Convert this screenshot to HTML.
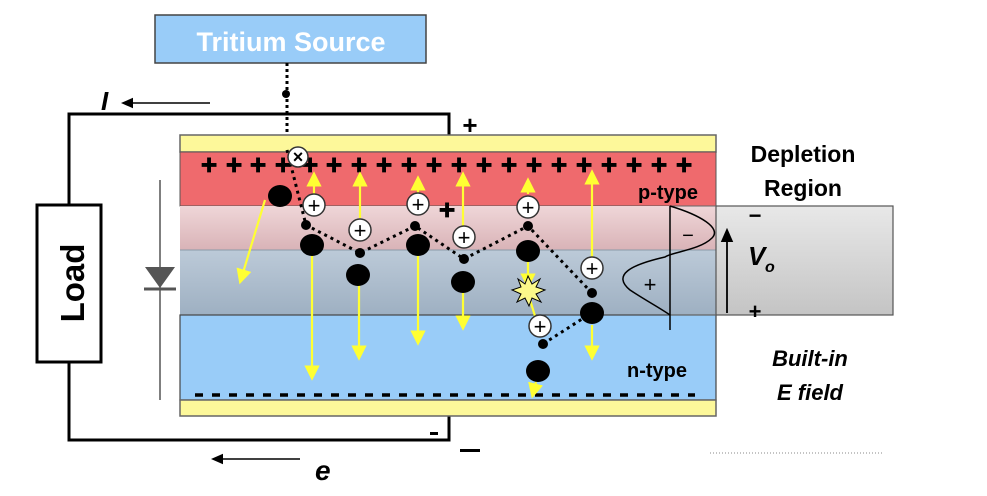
<!DOCTYPE html>
<html><head><meta charset="utf-8"><style>
html,body{margin:0;padding:0;background:#fff;}
svg{display:block;font-family:"Liberation Sans",Arial,sans-serif;}
</style></head><body>
<svg width="987" height="496" viewBox="0 0 987 496" xmlns="http://www.w3.org/2000/svg">
<defs>
<linearGradient id="pk" x1="0" y1="0" x2="0" y2="1"><stop offset="0" stop-color="#efd6d8"/><stop offset="1" stop-color="#d9b3b7"/></linearGradient>
<linearGradient id="gb" x1="0" y1="0" x2="0" y2="1"><stop offset="0" stop-color="#bccad8"/><stop offset="1" stop-color="#9eb0c2"/></linearGradient>
<linearGradient id="gr" x1="0" y1="0" x2="0" y2="1"><stop offset="0" stop-color="#e8e8e8"/><stop offset="1" stop-color="#c4c4c4"/></linearGradient>
<marker id="ya" markerWidth="7" markerHeight="7" refX="3" refY="3.5" orient="auto" markerUnits="strokeWidth"><path d="M0,0 L7,3.5 L0,7 z" fill="#ffff33"/></marker>
<marker id="ka" markerWidth="8" markerHeight="8" refX="4" refY="4" orient="auto" markerUnits="strokeWidth"><path d="M0,0.5 L8,4 L0,7.5 z" fill="#000"/></marker>
</defs>
<rect x="155" y="15" width="271" height="48" fill="#99ccf8" stroke="#444" stroke-width="1.5"/>
<text x="291" y="51" font-size="27" font-weight="bold" fill="#fff" text-anchor="middle">Tritium Source</text>
<line x1="287" y1="63" x2="287" y2="135" stroke="#000" stroke-width="3" stroke-dasharray="3,3"/>
<circle cx="286" cy="94" r="4" fill="#000"/>
<polyline points="449,135 449,114 69,114 69,205" fill="none" stroke="#000" stroke-width="3"/>
<polyline points="69,362 69,440 449,440 449,416" fill="none" stroke="#000" stroke-width="3"/>
<rect x="37" y="205" width="64" height="157" fill="#fff" stroke="#000" stroke-width="3"/>
<text transform="translate(84,283) rotate(-90)" font-size="33" font-weight="bold" text-anchor="middle">Load</text>
<text x="101" y="110" font-size="26" font-weight="bold" font-style="italic">I</text>
<line x1="210" y1="103" x2="127" y2="103" stroke="#000" stroke-width="1.5" marker-end="url(#ka)"/>
<line x1="300" y1="459" x2="217" y2="459" stroke="#000" stroke-width="1.5" marker-end="url(#ka)"/>
<text x="315" y="480" font-size="28" font-weight="bold" font-style="italic">e</text>
<text x="470" y="134" font-size="26" font-weight="bold" text-anchor="middle">+</text>
<rect x="460" y="449" width="20" height="3" fill="#000"/>
<rect x="430" y="432" width="8" height="3" fill="#000"/>
<line x1="160" y1="180" x2="160" y2="400" stroke="#555" stroke-width="1.5"/>
<polygon points="145,267 175,267 160,288" fill="#555"/>
<line x1="144" y1="289" x2="176" y2="289" stroke="#555" stroke-width="3"/>
<rect x="180" y="135" width="536" height="17" fill="#fdf89a" stroke="#666" stroke-width="1.5"/>
<rect x="180" y="152" width="536" height="54" fill="#ef6a6d" stroke="#555" stroke-width="1"/>
<rect x="180" y="206" width="536" height="44" fill="url(#pk)"/>
<rect x="180" y="250" width="536" height="65" fill="url(#gb)"/>
<line x1="180" y1="250" x2="716" y2="250" stroke="#8a9aa8" stroke-width="1"/>
<rect x="180" y="315" width="536" height="85" fill="#99ccf8" stroke="#444" stroke-width="1.2"/>
<rect x="180" y="400" width="536" height="16" fill="#fdf89a" stroke="#666" stroke-width="1.5"/>
<rect x="716" y="206" width="177" height="109" fill="url(#gr)" stroke="#555" stroke-width="1.2"/>
<line x1="670" y1="206" x2="716" y2="206" stroke="#666" stroke-width="1"/>
<line x1="670" y1="315" x2="716" y2="315" stroke="#666" stroke-width="1"/>
<g font-size="28" font-weight="bold" text-anchor="middle" stroke="#000" stroke-width="0.8">
<text x="209" y="174">+</text><text x="234" y="174">+</text><text x="258" y="174">+</text><text x="283" y="174">+</text>
<text x="310" y="174">+</text><text x="334" y="174">+</text><text x="359" y="174">+</text><text x="384" y="174">+</text>
<text x="409" y="174">+</text><text x="434" y="174">+</text><text x="459" y="174">+</text><text x="484" y="174">+</text>
<text x="509" y="174">+</text><text x="534" y="174">+</text><text x="559" y="174">+</text><text x="584" y="174">+</text>
<text x="609" y="174">+</text><text x="634" y="174">+</text><text x="659" y="174">+</text><text x="684" y="174">+</text>
<text x="447" y="219">+</text>
</g>
<line x1="195" y1="395" x2="695" y2="395" stroke="#000" stroke-width="3.5" stroke-dasharray="8,9"/>
<text x="638" y="199" font-size="20" font-weight="bold">p-type</text>
<text x="627" y="377" font-size="20" font-weight="bold">n-type</text>
<polyline points="287,150 306,225 360,253 415,226 464,259 528,226 592,293" fill="none" stroke="#000" stroke-width="3" stroke-dasharray="3,4"/>
<polyline points="593,312 543,344" fill="none" stroke="#000" stroke-width="3" stroke-dasharray="3,4"/>
<g stroke="#ffff33" stroke-width="2.2" fill="none">
<line x1="265" y1="200" x2="242" y2="276" marker-end="url(#ya)"/>
<line x1="312" y1="255" x2="312" y2="372" marker-end="url(#ya)"/>
<line x1="314" y1="194" x2="314" y2="180" marker-end="url(#ya)"/>
<line x1="360" y1="218" x2="360" y2="180" marker-end="url(#ya)"/>
<line x1="359" y1="285" x2="359" y2="352" marker-end="url(#ya)"/>
<line x1="418" y1="193" x2="418" y2="184" marker-end="url(#ya)"/>
<line x1="418" y1="255" x2="418" y2="337" marker-end="url(#ya)"/>
<line x1="463" y1="226" x2="463" y2="180" marker-end="url(#ya)"/>
<line x1="463" y1="292" x2="463" y2="322" marker-end="url(#ya)"/>
<line x1="528" y1="194" x2="528" y2="186" marker-end="url(#ya)"/>
<line x1="528" y1="262" x2="528" y2="280" marker-end="url(#ya)"/>
<line x1="530" y1="300" x2="535" y2="316"/>
<line x1="592" y1="257" x2="592" y2="178" marker-end="url(#ya)"/>
<line x1="592" y1="325" x2="592" y2="352" marker-end="url(#ya)"/>
<line x1="536" y1="382" x2="534" y2="390" marker-end="url(#ya)"/>
</g>
<polygon points="528,276 532,284 540,279 536,287 545,290 536,294 541,302 532,298 529,306 525,298 517,302 521,294 512,290 521,287 518,279 525,284" fill="#fbf88a" stroke="#000" stroke-width="1"/>
<g fill="#000">
<ellipse cx="280" cy="196" rx="12" ry="11"/>
<ellipse cx="312" cy="245" rx="12" ry="11"/>
<ellipse cx="358" cy="275" rx="12" ry="11"/>
<ellipse cx="418" cy="245" rx="12" ry="11"/>
<ellipse cx="463" cy="282" rx="12" ry="11"/>
<ellipse cx="528" cy="251" rx="12" ry="11"/>
<ellipse cx="592" cy="313" rx="12" ry="11"/>
<ellipse cx="538" cy="371" rx="12" ry="11"/>
<circle cx="306" cy="225" r="5"/><circle cx="360" cy="253" r="5"/><circle cx="415" cy="226" r="5"/>
<circle cx="464" cy="259" r="5"/><circle cx="528" cy="226" r="5"/><circle cx="592" cy="293" r="5"/><circle cx="543" cy="344" r="5"/>
</g>
<g stroke="#333" stroke-width="1.5" fill="#fff">
<circle cx="298" cy="157" r="10"/>
<circle cx="314" cy="205" r="11"/><circle cx="360" cy="230" r="11"/><circle cx="418" cy="204" r="11"/>
<circle cx="464" cy="237" r="11"/><circle cx="528" cy="207" r="11"/><circle cx="592" cy="268" r="11"/><circle cx="540" cy="326" r="11"/>
</g>
<g font-size="22" text-anchor="middle">
<text x="298" y="163" font-size="18" font-weight="bold">×</text>
<text x="314" y="213">+</text><text x="360" y="238">+</text><text x="418" y="212">+</text>
<text x="464" y="245">+</text><text x="528" y="215">+</text><text x="592" y="276">+</text><text x="540" y="334">+</text>
</g>
<line x1="670" y1="206" x2="670" y2="330" stroke="#000" stroke-width="1.5"/>
<path d="M670,206 C700,215 722,228 712,238 C700,250 672,252 665,257 C630,265 612,275 630,290 C645,300 660,308 670,315" fill="none" stroke="#000" stroke-width="1.5"/>
<text x="688" y="242" font-size="20" text-anchor="middle">−</text>
<text x="650" y="292" font-size="22" text-anchor="middle">+</text>
<line x1="727" y1="313" x2="727" y2="235" stroke="#000" stroke-width="1.8" marker-end="url(#ka)"/>
<text x="748" y="265" font-size="26" font-weight="bold" font-style="italic">V</text>
<text x="765" y="272" font-size="16" font-weight="bold" font-style="italic">o</text>
<text x="755" y="223" font-size="22" font-weight="bold" text-anchor="middle">−</text>
<text x="755" y="319" font-size="22" font-weight="bold" text-anchor="middle">+</text>
<text x="803" y="162" font-size="23" font-weight="bold" text-anchor="middle">Depletion</text>
<text x="803" y="196" font-size="23" font-weight="bold" text-anchor="middle">Region</text>
<text x="810" y="366" font-size="22" font-weight="bold" font-style="italic" text-anchor="middle">Built-in</text>
<text x="810" y="400" font-size="22" font-weight="bold" font-style="italic" text-anchor="middle">E field</text>
<line x1="710" y1="453" x2="882" y2="453" stroke="#888" stroke-width="1" stroke-dasharray="1,2"/>
</svg>
</body></html>
